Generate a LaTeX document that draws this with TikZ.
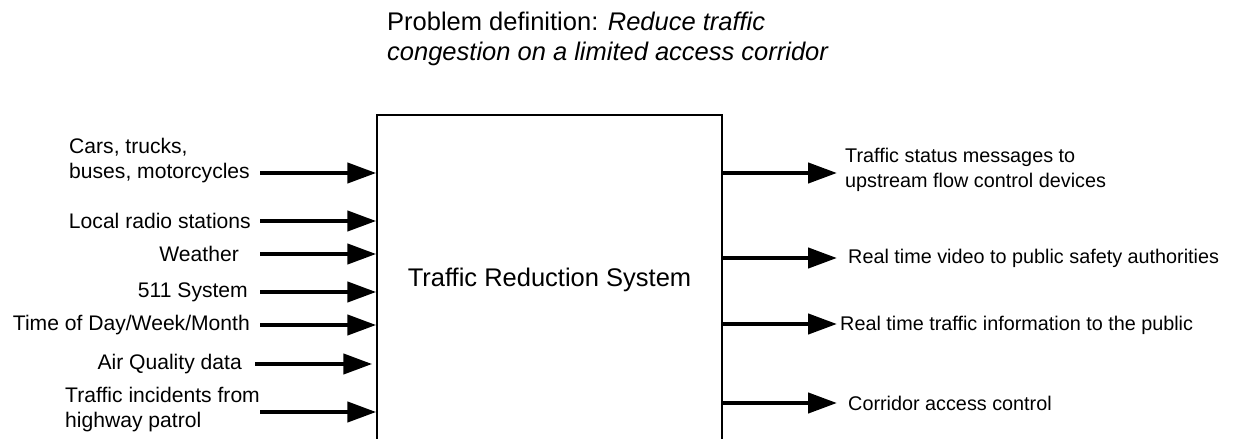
\documentclass[tikz,border=0pt]{standalone}
\usepackage{fontspec}
\setmainfont{Liberation Sans}
\usetikzlibrary{arrows.meta}
\tikzset{ sys/.style = { rectangle % system box
        , draw
        , line width = 1.5pt
        , minimum width = 345pt
        , minimum height = 330pt
        , font = \fontsize{25.5}{30}\selectfont
        }
        , headline/.style = { inner sep = 0pt % problem statement
        , align = left
        , font = \fontsize{25.5}{30}\selectfont
        }
        , lbl/.style = { inner sep = 0pt % input text
        , align = left
        , font = \fontsize{21.1}{25}\selectfont
        }
        , olbl/.style = { lbl % output text
        , font = \fontsize{19.8}{24.5}\selectfont
        }
        , flow/.style = { line width = 4.5pt % data flow
        , -{Triangle[length=29pt, width=20pt]}
        }
        }
\def\src(#1,#2)#3{% input arrow
\coordinate (a#1) at (#3,#2);
\draw[flow] (a#1) -- (a#1 -| sys.west);
}
\def\dst(#1,#2){% output arrow
\coordinate (b#1) at (837,#2);
\draw[flow] (b#1 -| sys.east) -- (b#1);
}

\begin{document}
\begin{tikzpicture}[x=1pt, y=-1pt]
                    \useasboundingbox (0,0) rectangle (1254,439);
                    \node[headline, anchor=north west] (prob) at (387,12)
                        {Problem definition: \textit{Reduce traffic}\\\textit{congestion on a limited access corridor}};
                    \node[sys] (sys) at (549.5,280) {Traffic Reduction System};

                    \node[lbl, anchor=east] (cars) at (250,161) {Cars, trucks,\\buses, motorcycles};
                    \node[lbl, anchor=east] (radio) at (251,221) {Local radio stations};
                    \node[lbl, anchor=east] (weather) at (239,254) {Weather};
                    \node[lbl, anchor=east] (fiveone) at (248,292) {511 System};
                    \node[lbl, anchor=east] (time) at (250,325) {Time of Day/Week/Month};
                    \node[lbl, anchor=east] (air) at (242,364) {Air Quality data};
                    \node[lbl, anchor=west] (patrol) at (65,410) {Traffic incidents from\\highway patrol};

                    \foreach[count=\n] \y in {173, 221, 254, 292, 325, 412} \src(\n,\y){260};
                    \coordinate (aair) at (255,364);
                    \draw[flow, shorten >=4pt] (aair) -- (aair -| sys.west);

                    \node[olbl, anchor=west] (status) at (845,170) {Traffic status messages to\\upstream flow control devices};
                    \node[olbl, anchor=west] (video) at (848,258) {Real time video to public safety authorities};
                    \node[olbl, anchor=west] (info) at (840,325) {Real time traffic information to the public};
                    \node[olbl, anchor=west] (access) at (848,403) {Corridor access control};

                    \foreach[count=\n] \y in {173, 258, 324, 403} \dst(\n,\y);
                \end{tikzpicture}
\end{document}
